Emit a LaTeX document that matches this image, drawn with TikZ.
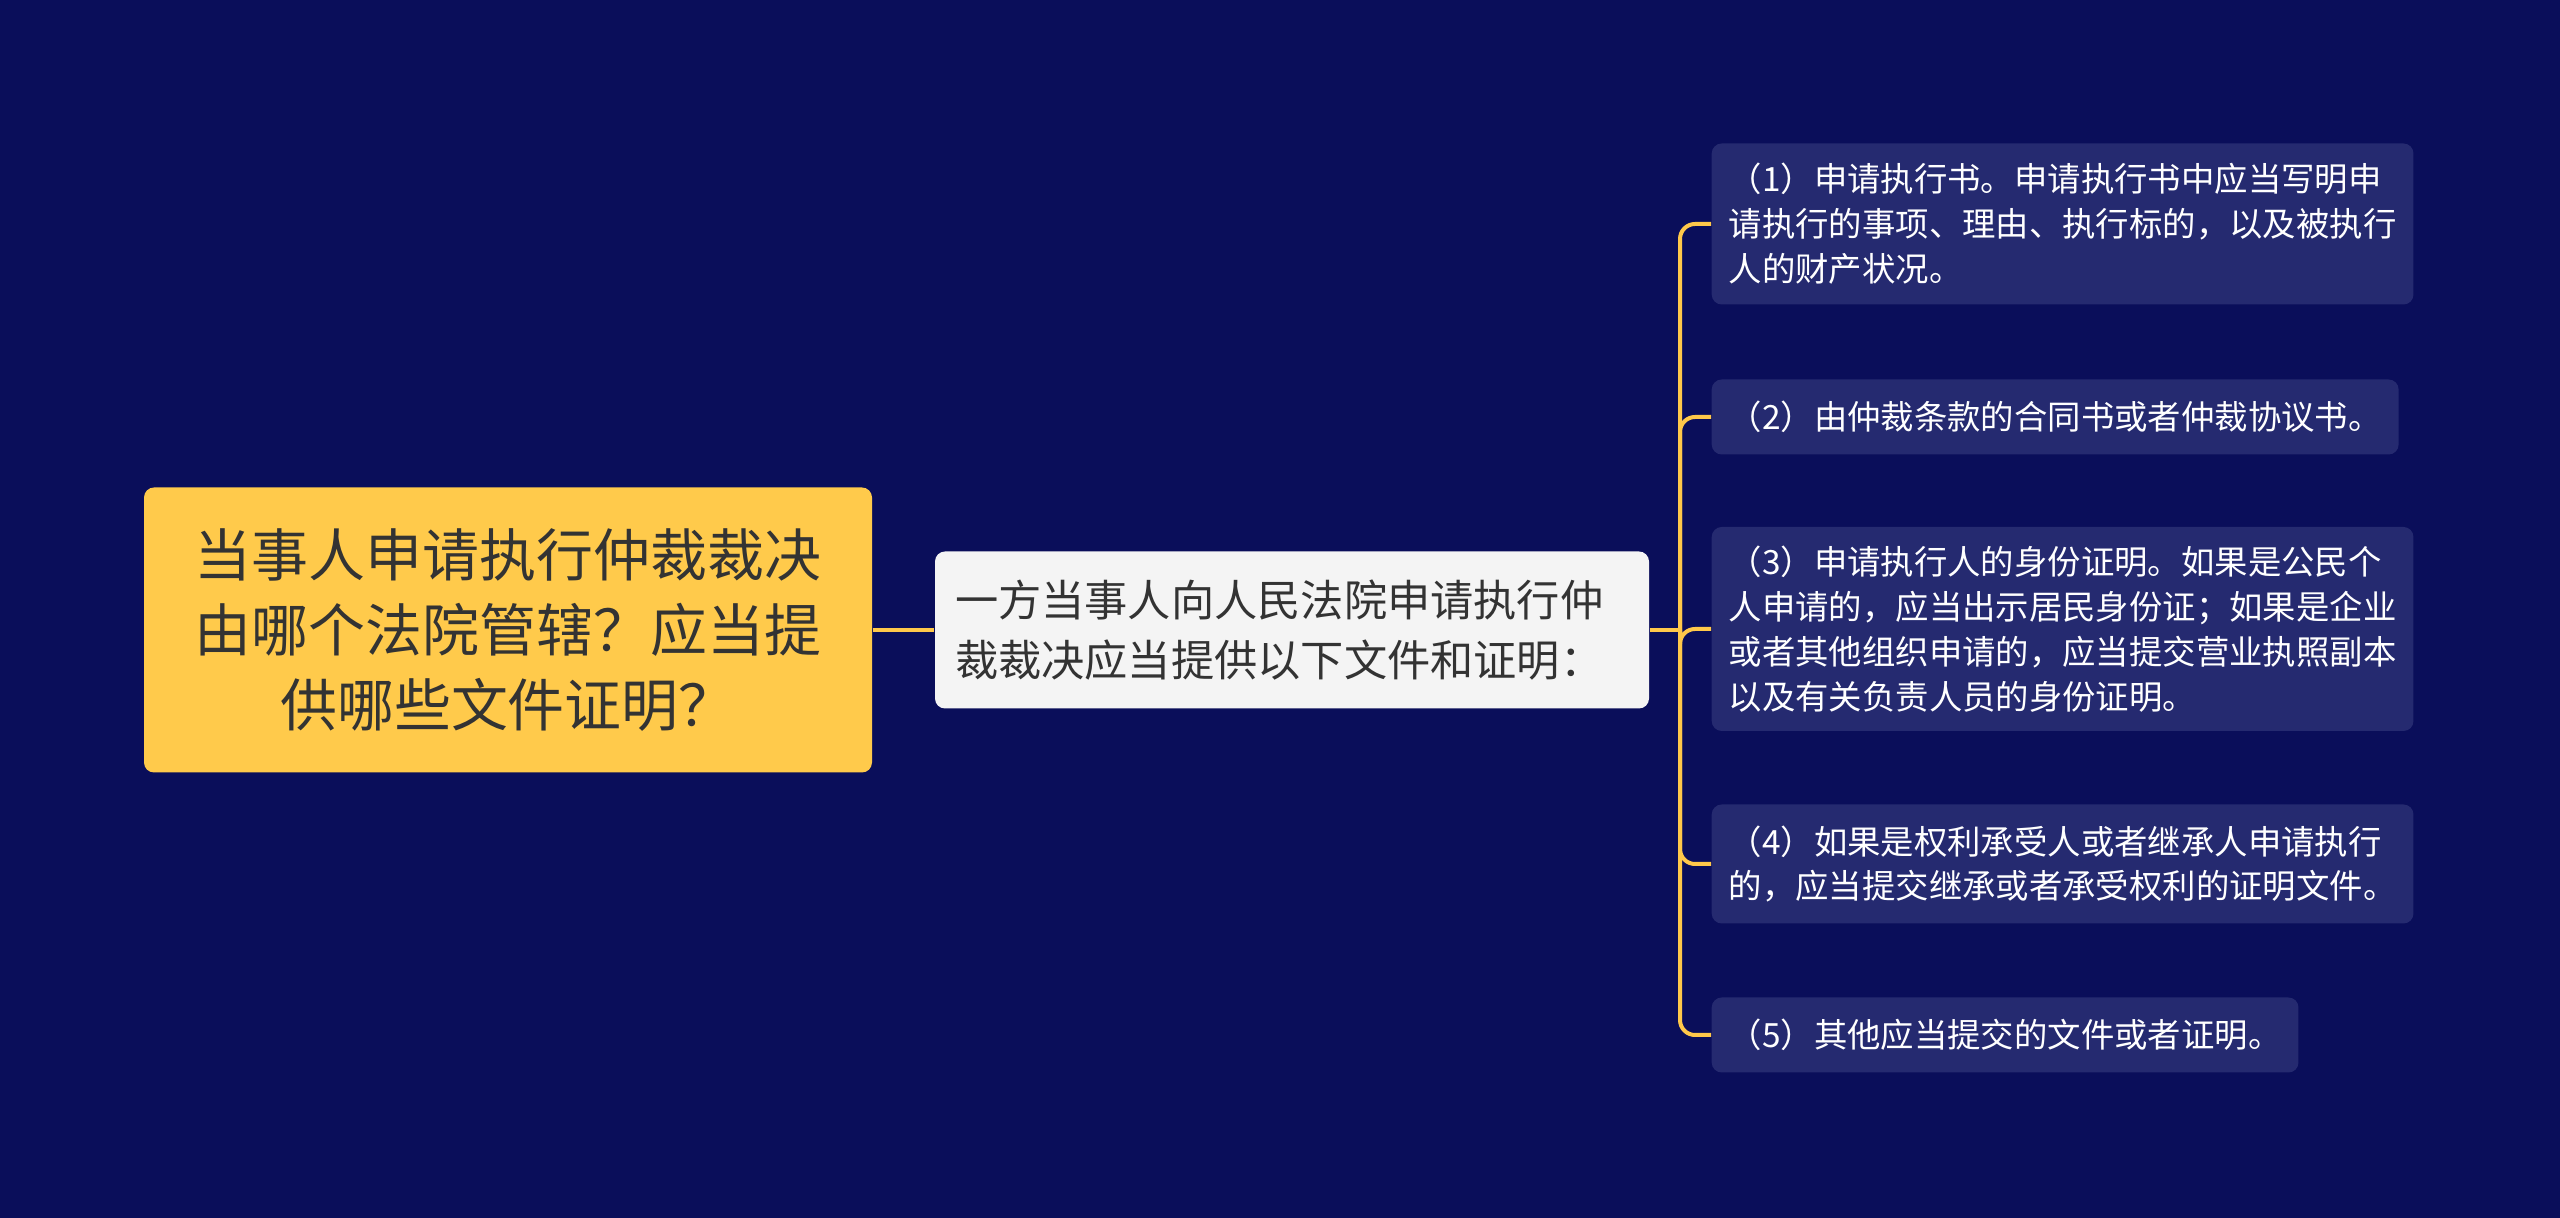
\documentclass[tikz,border=0pt]{standalone}
\usepackage{fontspec}
\setmainfont{Noto Sans CJK SC}
\usetikzlibrary{positioning}

\definecolor{bgnavy}{RGB}{10,14,90}
\definecolor{leafnavy}{RGB}{37,42,112}
\definecolor{rootyellow}{RGB}{255,202,75}
\definecolor{linkyellow}{RGB}{255,200,74}
\definecolor{midgray}{RGB}{244,244,244}
\definecolor{darktext}{RGB}{51,51,51}

\begin{document}
\begin{tikzpicture}[x=0.1mm, y=-0.1mm,
  rootbox/.style={fill=rootyellow, text=darktext, rounded corners=1mm, inner sep=0pt,
    minimum width=72.8mm, minimum height=28.5mm, align=center,
    font=\fontsize{16.2pt}{21.3pt}\selectfont},
  midbox/.style={fill=midgray, text=darktext, rounded corners=1mm,
    inner xsep=2mm, inner ysep=0pt, text width=67.4mm,
    minimum height=15.7mm, align=left,
    font=\fontsize{12.3pt}{17.1pt}\selectfont},
  leafbox/.style={fill=leafnavy, text=white, rounded corners=1mm, anchor=west,
    inner xsep=1.7mm, inner ysep=0pt, align=left,
    font=\fontsize{9.5pt}{12.8pt}\selectfont},
  link/.style={draw=linkyellow, line width=0.4mm, rounded corners=1.5mm}]

  % background
  \fill[bgnavy] (0,0) rectangle (2560,1218);

  \node[rootbox] (root) at (508,630)
    {当事人申请执行仲裁裁决\\由哪个法院管辖？应当提\\供哪些文件证明？};
  \node[midbox] (mid) at (1292,630)
    {一方当事人向人民法院申请执行仲\\裁裁决应当提供以下文件和证明：};
  \coordinate (hub) at (1680,630);

  \node[leafbox, minimum height=16.1mm] (item1) at (1711,224)
    {（1）申请执行书。申请执行书中应当写明申\\请执行的事项、理由、执行标的，以及被执行\\人的财产状况。};
  \node[leafbox, minimum height=7.5mm] (item2) at (1711,417)
    {（2）由仲裁条款的合同书或者仲裁协议书。};
  \node[leafbox, minimum height=20.4mm] (item3) at (1711,629)
    {（3）申请执行人的身份证明。如果是公民个\\人申请的，应当出示居民身份证；如果是企业\\或者其他组织申请的，应当提交营业执照副本\\以及有关负责人员的身份证明。};
  \node[leafbox, minimum height=11.9mm] (item4) at (1711,864)
    {（4）如果是权利承受人或者继承人申请执行\\的，应当提交继承或者承受权利的证明文件。};
  \node[leafbox, minimum height=7.5mm] (item5) at (1711,1035)
    {（5）其他应当提交的文件或者证明。};

  % connectors
  \draw[link] (root) -- (mid);
  \draw[link] (mid) -- (hub);
  \foreach \k in {1,...,5}
    \draw[link] (hub) |- (item\k.west);
\end{tikzpicture}
\end{document}
